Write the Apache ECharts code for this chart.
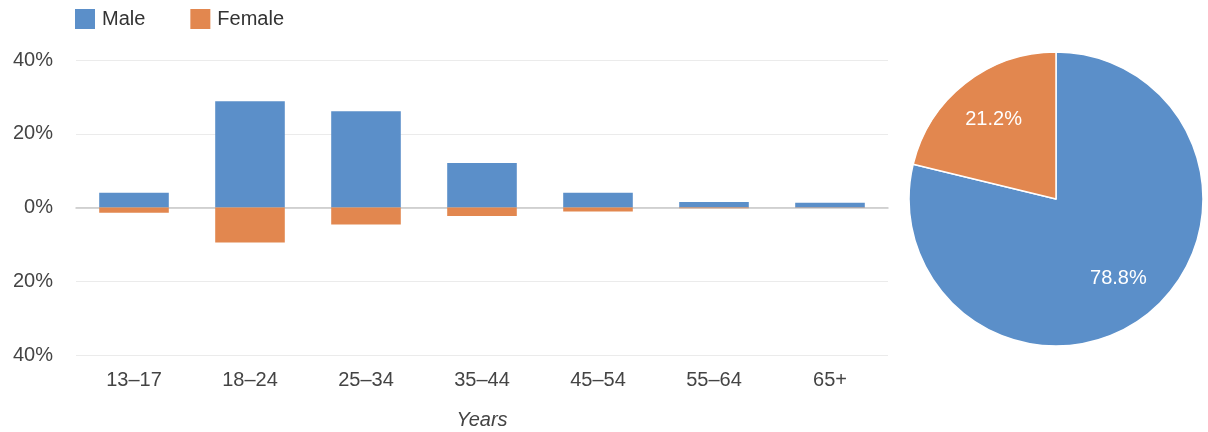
<!DOCTYPE html>
<html>
<head>
<meta charset="utf-8">
<title>Audience by age and gender</title>
<script src="https://cdn.jsdelivr.net/npm/echarts@6/dist/echarts.min.js"></script>
<style>
  html, body { margin: 0; padding: 0; background: #fff; }
  #chart { width: 1208px; height: 432px; }
</style>
</head>
<body>
<div id="chart"></div>
<script>
// Age groups on the horizontal axis
const ageGroups = ['13–17', '18–24', '25–34', '35–44', '45–54', '55–64', '65+'];
// Share of viewers per age group, in percent
const maleShare = [4.0, 28.8, 26.1, 12.1, 4.0, 1.5, 1.3];
const femaleShare = [1.4, 9.5, 4.6, 2.3, 1.1, 0.2, 0.1];
// Overall gender split, in percent
const genderTotals = [
  { name: 'Male', value: 78.8 },
  { name: 'Female', value: 21.2 }
];
// Value axis ticks
const yMin = -40, yMax = 40, yStep = 20;

const BLUE = '#5b8fc9';
const ORANGE = '#e2874f';
const FONT = '"Liberation Sans", Arial, sans-serif';

const chart = echarts.init(document.getElementById('chart'), null, { renderer: 'canvas' });

chart.setOption({
  animation: false,
  color: [BLUE, ORANGE],
  textStyle: { fontFamily: FONT },
  legend: {
    left: 70,
    top: 4,
    itemWidth: 20,
    itemHeight: 20,
    itemGap: 45,
    icon: 'rect',
    data: ['Male', 'Female'],
    textStyle: { fontSize: 20, color: '#333', fontFamily: FONT, padding: [0, 0, 0, 2] }
  },
  grid: { left: 76, right: 320, top: 60, bottom: 77, containLabel: false, outerBoundsMode: 'none' },
  xAxis: [
    {
      type: 'category',
      data: ageGroups,
      position: 'bottom',
      axisLine: { show: false, onZero: false },
      axisTick: { show: false },
      axisLabel: { color: '#444', fontSize: 20, margin: 15, fontFamily: FONT },
      name: 'Years',
      nameLocation: 'middle',
      nameGap: 55,
      nameTextStyle: { color: '#444', fontSize: 20, fontStyle: 'italic', fontFamily: FONT }
    },
    {
      // baseline drawn through zero
      type: 'category',
      data: ageGroups,
      position: 'bottom',
      axisLine: { show: true, onZero: true, lineStyle: { color: '#c8c8c8', width: 1.5 } },
      axisTick: { show: false },
      axisLabel: { show: false }
    }
  ],
  yAxis: {
    type: 'value',
    min: yMin,
    max: yMax,
    interval: yStep,
    axisLine: { show: false },
    axisTick: { show: false },
    axisLabel: {
      color: '#444',
      fontSize: 20,
      margin: 23,
      fontFamily: FONT,
      formatter: v => Math.abs(v) + '%'
    },
    splitLine: { lineStyle: { color: '#ebebeb', width: 1 } }
  },
  series: [
    {
      name: 'Male',
      type: 'bar',
      stack: 'age',
      barWidth: '60%',
      data: maleShare,
      itemStyle: { color: BLUE }
    },
    {
      name: 'Female',
      type: 'bar',
      stack: 'age',
      barWidth: '60%',
      data: femaleShare.map(v => -v),
      itemStyle: { color: ORANGE }
    },
    {
      name: 'Gender',
      type: 'pie',
      center: [1056, 199],
      radius: [0, 147],
      startAngle: 90,
      clockwise: true,
      data: genderTotals,
      label: { show: false },
      labelLine: { show: false },
      itemStyle: { borderColor: '#fff', borderWidth: 1.5 },
      emphasis: { disabled: true }
    },
    {
      // label ring placed further out than the pie centre line
      name: 'GenderLabels',
      type: 'pie',
      center: [1056, 199],
      radius: [0, 196],
      startAngle: 90,
      clockwise: true,
      silent: true,
      data: genderTotals,
      itemStyle: { color: 'rgba(0,0,0,0)' },
      label: {
        show: true,
        position: 'inside',
        color: '#fff',
        fontSize: 20,
        fontFamily: FONT,
        formatter: p => p.value.toFixed(1) + '%'
      },
      labelLine: { show: false },
      emphasis: { disabled: true },
      z: 3
    }
  ]
});
</script>
</body>
</html>
